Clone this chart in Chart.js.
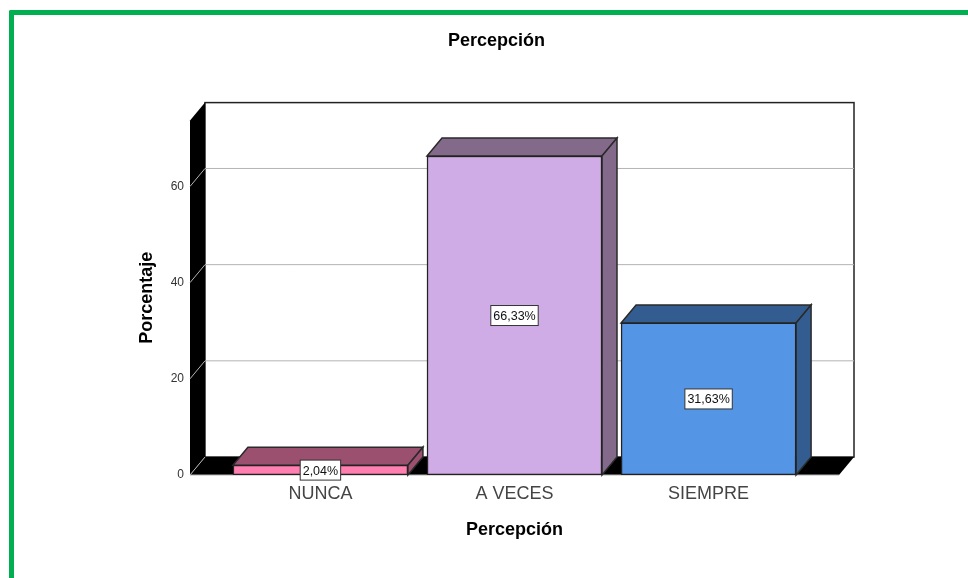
<!DOCTYPE html>
<html>
<head>
<meta charset="utf-8">
<title>Percepción</title>
<script src="https://cdn.jsdelivr.net/npm/chart.js@4"></script>
<style>
  html, body { margin: 0; padding: 0; background: #fff; overflow: hidden; }
  #frame { position: absolute; left: 9px; top: 10px; width: 959px; height: 568px; box-sizing: border-box;
           border-top: 5px solid #00B050; border-left: 5px solid #00B050; border-top-left-radius: 2px; }
  #chart { position: absolute; left: 0; top: 0; }
</style>
</head>
<body>
<div id="frame"></div>
<canvas id="chart" width="968" height="578"></canvas>
<script>
// datos
const categories = ['NUNCA', 'A VECES', 'SIEMPRE'];
const percentages = [2.04, 66.33, 31.63];
const yTicks = [0, 20, 40, 60];

// colores de cada barra
const frontColors = ['#FF80B0', '#D0ACE6', '#5595E6'];
const darkColors = ['#9C5070', '#836A8B', '#335D91'];

const FONT = '"Liberation Sans", Arial, sans-serif';
const DEPTH_X = 15;
const DEPTH_Y = 18;

function poly(c, pts, fill, stroke) {
    c.beginPath();
    pts.forEach((p, i) => i ? c.lineTo(p[0], p[1]) : c.moveTo(p[0], p[1]));
    c.closePath();
    if (fill) { c.fillStyle = fill; c.fill(); }
    if (stroke) { c.strokeStyle = stroke; c.lineWidth = 1.5; c.stroke(); }
}

// paredes, suelo y caras laterales del efecto 3D
const box3d = {
    id: 'box3d',
    afterLayout(chart) {
        // el titulo no esta centrado sobre el grafico en el original
        chart.titleBlock.left += 18;
    },
    beforeDatasetsDraw(chart) {
        const c = chart.ctx;
        const { left, right, top, bottom } = chart.chartArea;
        const y = chart.scales.y;
        c.save();
        // pared del fondo
        c.fillStyle = '#fff';
        c.fillRect(left + DEPTH_X, top - DEPTH_Y, right - left, bottom - top);
        c.strokeStyle = '#222';
        c.lineWidth = 1.5;
        c.strokeRect(left + DEPTH_X, top - DEPTH_Y, right - left, bottom - top);
        // pared izquierda y suelo
        poly(c, [[left, top], [left + DEPTH_X, top - DEPTH_Y], [left + DEPTH_X, bottom - DEPTH_Y], [left, bottom]], '#000');
        poly(c, [[left, bottom], [left + DEPTH_X, bottom - DEPTH_Y], [right + DEPTH_X, bottom - DEPTH_Y], [right, bottom]], '#000');
        // rejilla
        c.strokeStyle = '#b4b4b4';
        c.lineWidth = 1;
        yTicks.forEach(t => {
            const py = y.getPixelForValue(t);
            c.beginPath();
            c.moveTo(left, py);
            c.lineTo(left + DEPTH_X, py - DEPTH_Y);
            if (t > 0) c.lineTo(right + DEPTH_X, py - DEPTH_Y);
            c.stroke();
        });
        c.beginPath();
        c.moveTo(left, bottom);
        c.lineTo(right, bottom);
        c.stroke();
        // caras superior y derecha de las barras
        chart.getDatasetMeta(0).data.forEach((bar, i) => {
            const l = bar.x - bar.width / 2, r = bar.x + bar.width / 2;
            poly(c, [[l, bar.y], [l + DEPTH_X, bar.y - DEPTH_Y], [r + DEPTH_X, bar.y - DEPTH_Y], [r, bar.y]], darkColors[i], '#2a2a2a');
            poly(c, [[r, bar.y], [r + DEPTH_X, bar.y - DEPTH_Y], [r + DEPTH_X, bar.base - DEPTH_Y], [r, bar.base]], darkColors[i], '#2a2a2a');
        });
        c.restore();
    },
    afterDatasetsDraw(chart) {
        const c = chart.ctx;
        c.save();
        c.font = '12.5px ' + FONT;
        c.textAlign = 'center';
        c.textBaseline = 'middle';
        chart.getDatasetMeta(0).data.forEach((bar, i) => {
            const text = percentages[i].toFixed(2).replace('.', ',') + '%';
            const w = c.measureText(text).width + 5;
            const cy = (bar.y + bar.base) / 2;
            c.fillStyle = '#fff';
            c.fillRect(bar.x - w / 2, cy - 10, w, 20);
            c.strokeStyle = '#333';
            c.lineWidth = 1;
            c.strokeRect(bar.x - w / 2, cy - 10, w, 20);
            c.fillStyle = '#111';
            c.fillText(text, bar.x, cy + 1);
        });
        c.restore();
    }
};

new Chart(document.getElementById('chart'), {
    type: 'bar',
    plugins: [box3d],
    data: {
        datasets: [{
            data: percentages.map((v, i) => ({ x: i, y: v })),
            backgroundColor: frontColors,
            borderColor: '#222',
            borderWidth: 1.5,
            borderSkipped: false,
            barThickness: 175
        }]
    },
    options: {
        responsive: false,
        animation: false,
        layout: { padding: { left: 136, right: 129, top: 0, bottom: 35 } },
        plugins: {
            legend: { display: false },
            tooltip: { enabled: false },
            title: {
                display: true,
                text: 'Percepción',
                color: '#000',
                font: { family: FONT, size: 18, weight: 'bold' },
                padding: { top: 30, bottom: 69 }
            }
        },
        scales: {
            x: {
                type: 'linear',
                offset: false,
                min: -0.672,
                max: 2.672,
                grid: { display: false, drawTicks: false },
                border: { display: false },
                afterBuildTicks: s => { s.ticks = categories.map((_, i) => ({ value: i })); },
                afterFit: s => { s.height = 68; },
                ticks: {
                    autoSkip: false,
                    maxRotation: 0,
                    padding: 8,
                    color: '#444',
                    font: { family: FONT, size: 18 },
                    callback: v => categories[v]
                },
                title: {
                    display: true,
                    text: 'Percepción',
                    color: '#000',
                    font: { family: FONT, size: 18, weight: 'bold' },
                    padding: { top: 0, bottom: 2 }
                }
            },
            y: {
                min: 0,
                max: 73.7,
                grid: { display: false, drawTicks: false },
                border: { display: false },
                afterBuildTicks: s => { s.ticks = yTicks.map(v => ({ value: v })); },
                afterFit: s => { s.width = 54; },
                ticks: {
                    padding: 6,
                    color: '#333',
                    font: { family: FONT, size: 12 }
                },
                title: {
                    display: true,
                    text: 'Porcentaje',
                    color: '#000',
                    font: { family: FONT, size: 18, weight: 'bold' },
                    padding: 0
                }
            }
        }
    }
});
</script>
</body>
</html>
